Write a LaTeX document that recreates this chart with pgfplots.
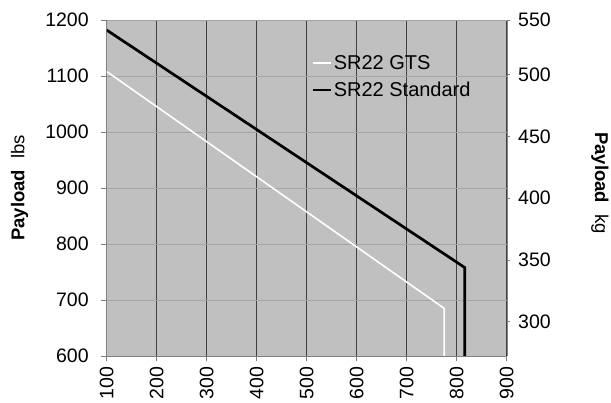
\documentclass[border=0pt]{standalone}
\usepackage{fontspec}
\setmainfont{Liberation Sans}
\usepackage{pgfplots}
\pgfplotsset{compat=1.18}
\definecolor{bgcol}{HTML}{C0C0C0}
\definecolor{hgrid}{HTML}{A4A4A4}
\begin{document}
\begin{tikzpicture}
\pgfplotsset{
  every axis/.append style={
    scale only axis, width=400pt, height=336pt,
    font=\fontsize{19}{22}\selectfont,
    /pgf/number format/assume math mode=true,
    /pgf/number format/1000 sep={},
    tick label style={font=\fontsize{19.5}{22}\selectfont},
    label style={font=\fontsize{18.5}{22}\selectfont},
  }
}
\begin{axis}[
  at={(0pt,0pt)}, anchor=south west,
  xmin=100, xmax=900, ymin=600, ymax=1200,
  xtick={100,200,...,900}, ytick={600,700,...,1200},
  axis background/.style={fill=bgcol},
  xmajorgrids, ymajorgrids,
  x grid style={black!75, line width=0.7pt},
  y grid style={hgrid, line width=0.8pt},
  axis line style={gray},
  axis y line*=left, axis x line*=bottom,
  tick align=outside, major tick length=5.5pt,
  tick style={gray, line width=0.7pt},
  xticklabel style={rotate=90, anchor=east, xshift=-2pt},
  yticklabel style={xshift=-9pt},
  ylabel={\textbf{Payload}\hspace{0.6em}lbs},
  ylabel style={at={(axis description cs:-0.218,0.5)}, anchor=center},
  legend style={draw=none, fill=none, inner sep=0pt, at={(0.513,0.898)}, anchor=north west,
    font=\fontsize{20}{23}\selectfont, row sep=9pt,
    nodes={inner sep=1pt},
    /tikz/every even column/.append style={column sep=0pt}},
  legend cell align=left,
  legend image code/.code={\draw[#1] (0pt,0pt) -- (18pt,0pt);},
]
\addplot[white, line width=1.6pt] coordinates {(100,1108) (775,685) (775,600)};
\addlegendentry{SR22 GTS}
\addplot[black, line width=2.7pt] coordinates {(100,1182) (816,758) (816,600)};
\addlegendentry{SR22 Standard}
\end{axis}
\begin{axis}[
  at={(0pt,0pt)}, anchor=south west,
  xmin=100, xmax=900, ymin=272.155, ymax=544.31,
  axis x line=none, axis y line*=right,
  ytick={300,350,400,450,500,544.31},
  yticklabels={300,350,400,450,500,550},
  axis line style={gray},
  tick align=outside, major tick length=3pt,
  tick style={gray, line width=0.7pt},
  yticklabel style={xshift=5pt},
  ylabel={\textbf{Payload}\hspace{0.6em}kg},
  ylabel style={rotate=180, at={(axis description cs:1.233,0.515)}, anchor=center},
]
\end{axis}
\pgfresetboundingbox
\useasboundingbox (-106.7pt,-47pt) rectangle (504.3pt,356pt);
\end{tikzpicture}
\end{document}
